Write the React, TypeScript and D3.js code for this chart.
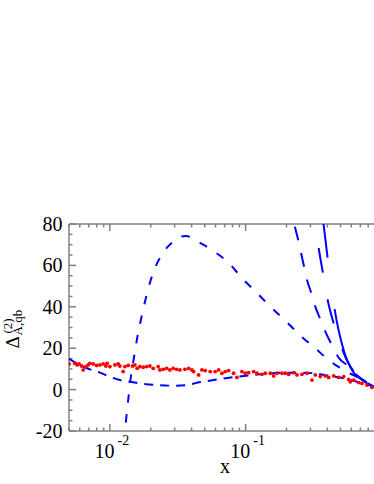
import React from 'react';
import * as d3 from 'd3';

const W = 374;
const H = 484;

const yTickValues = [-20, 0, 20, 40, 60, 80];
const xMajorTicks = [0.01, 0.1];
const xMajorExp = ['-2', '-1'];

// Curve 1: low dashed curve
const c1X = [0.005, 0.00601, 0.00713, 0.00844, 0.01, 0.01185, 0.01404, 0.01664, 0.0221, 0.0293, 0.0369, 0.0438, 0.0581, 0.0862, 0.1274, 0.1905, 0.251, 0.317, 0.418, 0.527, 0.661, 0.805, 0.877, 1.0];
const c1Y = [14.9, 11.9, 9.8, 8.2, 6.2, 4.6, 3.8, 3.0, 2.2, 1.9, 2.2, 3.3, 4.6, 6.2, 7.4, 8.2, 8.2, 7.9, 6.6, 5.5, 3.8, 2.2, 1.4, 0.3];

// Curve 2: medium dashes with peak
const c2X = [0.0131, 0.0137, 0.0142, 0.015, 0.016, 0.0175, 0.0188, 0.0208, 0.0246, 0.0291, 0.0328, 0.0363, 0.0402, 0.0438, 0.0565, 0.0754, 0.094, 0.121, 0.156, 0.201, 0.26, 0.324, 0.418, 0.48, 0.555, 0.638, 0.76, 0.87, 1.0];
const c2Y = [-16, -4, 5, 15, 26, 38, 46.7, 56.3, 66, 71.4, 73.8, 74.2, 73.3, 71.8, 67.4, 61.1, 53.9, 46.7, 39.4, 32.6, 25.4, 20.1, 13.8, 11.1, 8.6, 6.6, 3.7, 1.6, 0.3];

// Curve 3: long dashes
const c3X = [0.225, 0.2307, 0.244, 0.256, 0.2706, 0.2847, 0.3064, 0.328, 0.357, 0.391, 0.4325, 0.4874, 0.555, 0.618, 0.72, 0.82, 1.0];
const c3Y = [82, 78.7, 72.3, 66, 58.9, 52.5, 46.2, 39.6, 33.6, 27.3, 21.5, 15.2, 11.9, 8.5, 5.1, 2.7, 0.3];

// Curve 4: very long dashes (rightmost)
const c4X = [0.372, 0.3757, 0.402, 0.453, 0.527, 0.618, 0.72, 0.85, 1.0];
const c4Y = [82, 79.5, 63.4, 38.5, 19.1, 8.6, 4.6, 1.7, 0.3];

// Curve 5: long dashes
const c5X = [0.318, 0.324, 0.345, 0.371, 0.402, 0.445, 0.5, 0.565, 0.65, 0.745, 0.85, 1.0];
const c5Y = [83, 80, 68.4, 56.3, 43.3, 32, 21.6, 13.3, 7.5, 4.2, 1.7, 0.3];

// Red data points
const dotX = [0.00501, 0.00552, 0.00574, 0.00594, 0.00619, 0.00636, 0.00665, 0.00692, 0.00712, 0.00753, 0.00798, 0.00844, 0.00892, 0.00934, 0.00955, 0.01, 0.01089, 0.01151, 0.01185, 0.01253, 0.0129, 0.01364, 0.0147, 0.01528, 0.01589, 0.01664, 0.0176, 0.01864, 0.01971, 0.02085, 0.02269, 0.02336, 0.02471, 0.02617, 0.02768, 0.02928, 0.03101, 0.03281, 0.03571,
  0.03802, 0.04021, 0.04139, 0.04505, 0.04764, 0.05039, 0.05484, 0.0597, 0.06324, 0.06689, 0.07073, 0.07492, 0.08156, 0.08627, 0.09391, 0.09933, 0.1052, 0.1146, 0.1212, 0.1319, 0.1395, 0.1519, 0.1608, 0.1701, 0.1852, 0.1958, 0.2075, 0.2258, 0.2388, 0.2599, 0.283, 0.3081, 0.3258, 0.3545, 0.3861, 0.4089, 0.4452, 0.4845, 0.5276, 0.5741, 0.5899, 0.625, 0.6805, 0.7194, 0.7833, 0.8524];
const dotY = [12.4, 12.7, 11.9, 12.4, 11.4, 9.5, 11.1, 11.9, 12.7, 12.4, 11.7, 11.9, 12.4, 11.4, 12.7, 11.1, 11.9, 12.4, 11.4, 8.7, 11.1, 11.7, 11.4, 11.9, 10.3, 11.1, 10.8, 11.1, 11.4, 10.3, 11.1, 9.5, 9.8, 10.3, 9.5, 10.3, 9.8, 9.5, 9.8,
  10.3, 9.5, 8.7, 7.1, 9.5, 9.2, 8.7, 8.7, 9.5, 7.9, 8.7, 9.2, 7.9, 5.9, 8.7, 7.9, 8.2, 8.7, 7.9, 7.4, 7.9, 7.9, 6.6, 7.9, 7.9, 7.9, 7.4, 8.2, 7.1, 7.4, 7.9, 4.6, 7.1, 6.3, 6.6, 5.9, 6.6, 5.9, 6.3, 4.9, 3.8, 4.6, 3.4, 3.0, 2.2, 1.1];

const BLUE = '#0000ff';
const AXIS = '#808080';
const FONT = 'Liberation Serif, Times New Roman, Times, DejaVu Serif, serif';

export default function App() {
  const left = 69, right = 381.4, top = 224, bottom = 431;
  const x = d3.scaleLog().domain([0.005, 1]).range([left, right]);
  const y = d3.scaleLinear().domain([-20, 80]).range([bottom, top]);

  const line = d3.line<[number, number]>()
    .x(d => x(d[0]))
    .y(d => y(d[1]))
    .curve(d3.curveMonotoneX);
  const mk = (xs: number[], ys: number[]) => line(xs.map((v, i) => [v, ys[i]] as [number, number])) || '';

  const curves = [
    { d: mk(c1X, c1Y), dash: '9,7', off: 0 },
    { d: mk(c2X, c2Y), dash: '8.5,11.5', off: 0 },
    { d: mk(c3X, c3Y), dash: '14,13', off: 20 },
    { d: mk(c4X, c4Y), dash: '38,52,300', off: 0 },
    { d: mk(c5X, c5Y), dash: '25,27', off: 21.4 },
  ];

  const xTicks = x.ticks();
  const isMajor = (v: number) => Math.abs(Math.log10(v) - Math.round(Math.log10(v))) < 1e-6;
  const yMinor = d3.range(-20, 81, 5);
  const textStyle = { fontFamily: FONT };

  return (
    <svg width={W} height={H} style={{ position: 'absolute', left: 0, top: 0, background: '#fff' }}>
      <defs>
        <clipPath id="plot">
          <rect x={left} y={top} width={right - left} height={bottom - top} />
        </clipPath>
      </defs>
      <g stroke={AXIS} strokeWidth={1.5} fill="none">
        <line x1={left} y1={top} x2={right} y2={top} />
        <line x1={left} y1={bottom} x2={right} y2={bottom} />
        <line x1={left} y1={top} x2={left} y2={bottom} />
        <line x1={right} y1={top} x2={right} y2={bottom} />
        {xTicks.map((v, i) => {
          const L = isMajor(v) ? 7 : 3.5;
          return (
            <g key={'xt' + i}>
              <line x1={x(v)} x2={x(v)} y1={bottom} y2={bottom - L} />
              <line x1={x(v)} x2={x(v)} y1={top} y2={top + L} />
            </g>
          );
        })}
        {yMinor.map((v, i) => {
          const L = v % 20 === 0 ? 7 : 3.5;
          return (
            <g key={'yt' + i}>
              <line x1={left} x2={left + L} y1={y(v)} y2={y(v)} />
              <line x1={right} x2={right - L} y1={y(v)} y2={y(v)} />
            </g>
          );
        })}
      </g>
      <g style={textStyle} fontSize={20} fill="#000">
        {yTickValues.map(v => (
          <text key={'yl' + v} style={textStyle} x={62.5} y={y(v) + 7} textAnchor="end">{v}</text>
        ))}
        {xMajorTicks.map((v, i) => (
          <text key={'xl' + v} style={textStyle} x={x(v) - 15.4} y={458.3}>
            10<tspan fontSize={14} dx={3} dy={-13}>{xMajorExp[i]}</tspan>
          </text>
        ))}
        <text style={textStyle} x={225} y={473} textAnchor="middle">x</text>
      </g>
      <g transform="translate(19.3,348.5) rotate(-90)" style={textStyle} fill="#000">
        <text style={textStyle} x={0} y={0} fontSize={19}>Δ</text>
        <text style={textStyle} x={15} y={-7.5} fontSize={13}>(2)</text>
        <text style={textStyle} x={13} y={3} fontSize={13}>A,qb</text>
      </g>
      <g clipPath="url(#plot)">
        {curves.map((c, i) => (
          <path key={'c' + i} d={c.d} fill="none" stroke={BLUE} strokeWidth={2}
            strokeDasharray={c.dash} strokeDashoffset={c.off} />
        ))}
        {dotX.map((v, i) => (
          <circle key={'p' + i} cx={x(v)} cy={y(dotY[i])} r={1.9} fill="#ff0000" />
        ))}
      </g>
    </svg>
  );
}
